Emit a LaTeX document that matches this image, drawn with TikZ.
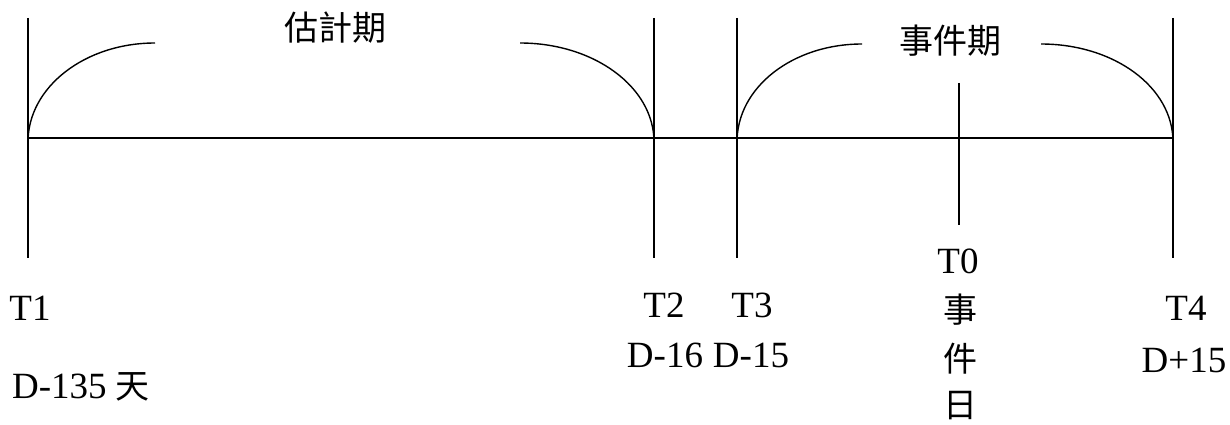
\documentclass[tikz,border=0pt]{standalone}
\usepackage{fontspec}
\setmainfont{Liberation Serif}
\newfontfamily\cjk{Noto Sans CJK TC}
\begin{document}
\begin{tikzpicture}[x=1pt,y=-1pt,
  ln/.style={line width=1.4pt,black},
  lat/.style={inner sep=0pt,font=\fontsize{37}{40}\selectfont},
  han/.style={inner sep=0pt,font=\cjk\fontsize{34}{36}\selectfont}]
\useasboundingbox (0,0) rectangle (1230,425);
% coordinates
\coordinate (a1) at (28,18);  \coordinate (b1) at (28,258);
\coordinate (a2) at (654,18); \coordinate (b2) at (654,258);
\coordinate (a3) at (737,18); \coordinate (b3) at (737,258);
\coordinate (a0) at (959,83); \coordinate (b0) at (959,225);
\coordinate (a4) at (1173,18);\coordinate (b4) at (1173,258);
\coordinate (h1) at (28,138); \coordinate (h4) at (1173,138);
% lines
\draw[ln] (a1) -- (b1);
\draw[ln] (a2) -- (b2);
\draw[ln] (a3) -- (b3);
\draw[ln] (a0) -- (b0);
\draw[ln] (a4) -- (b4);
\draw[ln] (h1) -- (h4);
% arcs
\coordinate (p1) at (28,142);  \coordinate (q1) at (155,43);
\coordinate (p2) at (520,43);  \coordinate (q2) at (654,142);
\coordinate (p3) at (737,142); \coordinate (q3) at (862,44);
\coordinate (p4) at (1041,44); \coordinate (q4) at (1173,142);
\draw[ln] (p1) .. controls (28,87) and (85,43) .. (q1);
\draw[ln] (p2) .. controls (594,43) and (654,87) .. (q2);
\draw[ln] (p3) .. controls (737,87) and (793,44) .. (q3);
\draw[ln] (p4) .. controls (1114,44) and (1173,87) .. (q4);
% period labels
\node[han] (est) at (335,28) {估計期};
\node[han] (evt) at (950,41) {事件期};
% bottom labels
\node[lat] (t1) at (30,308) {T1};
\node[lat,anchor=west] (d1) at (12,387) {D-135 {\cjk\fontsize{34}{36}\selectfont 天}};
\node[lat] (t2) at (664,305) {T2};
\node[lat] (d2) at (665,355) {D-16};
\node[lat] (t3) at (752,305) {T3};
\node[lat] (d3) at (751,355) {D-15};
\node[lat] (t0) at (958,261) {T0};
\node[han] (e1) at (960,310) {事};
\node[han] (e2) at (960,359) {件};
\node[han] (e3) at (960,406) {日};
\node[lat] (t4) at (1186,308) {T4};
\node[lat] (d4) at (1184,360) {D+15};
\end{tikzpicture}
\end{document}
